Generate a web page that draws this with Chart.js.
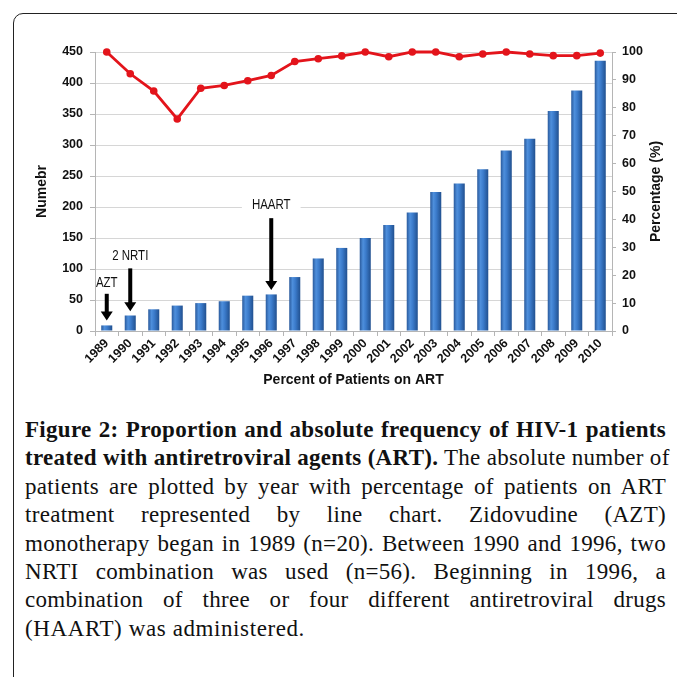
<!DOCTYPE html>
<html>
<head>
<meta charset="utf-8">
<script src="https://cdn.jsdelivr.net/npm/chart.js@4.4.1/dist/chart.umd.min.js"></script>
<style>
  html, body { margin: 0; padding: 0; background: #fff; }
  body { width: 677px; height: 677px; position: relative; overflow: hidden; }
  #frame {
    position: absolute; left: 13px; top: 13px; width: 720px; height: 720px;
    border: 1.5px solid #222; border-radius: 10px; box-sizing: border-box;
  }
  #chartBox { position: absolute; left: 0; top: 0; width: 677px; height: 400px; }
  #caption {
    position: absolute; left: 25px; top: 416px; width: 641px;
    font-family: "Liberation Serif", "Times New Roman", serif;
    font-size: 23px; line-height: 28.4px; color: #111; letter-spacing: 0.3px;
  }
  #caption div { white-space: nowrap; text-align: justify; text-align-last: justify; }
  #caption div.last { text-align: left; text-align-last: left; letter-spacing: 0.6px; }
</style>
</head>
<body>
<div id="frame"></div>
<div id="chartBox"><canvas id="artChart"></canvas></div>
<div id="caption">
  <div><b>Figure 2: Proportion and absolute frequency of HIV-1 patients</b></div>
  <div><b>treated with antiretroviral agents (ART).</b> The absolute number of</div>
  <div>patients are plotted by year with percentage of patients on ART</div>
  <div>treatment represented by line chart. Zidovudine (AZT)</div>
  <div>monotherapy began in 1989 (n=20). Between 1990 and 1996, two</div>
  <div>NRTI combination was used (n=56). Beginning in 1996, a</div>
  <div>combination of three or four different antiretroviral drugs</div>
  <div class="last">(HAART) was administered.</div>
</div>
<script>
const years = ['1989', '1990', '1991', '1992', '1993', '1994', '1995', '1996', '1997', '1998', '1999',
               '2000', '2001', '2002', '2003', '2004', '2005', '2006', '2007', '2008', '2009', '2010'];
// absolute number of patients (left axis)
const patients = [9, 25, 35, 41, 45, 48, 57, 59, 87, 117, 134,
                  150, 171, 191, 224, 238, 261, 291, 310, 355, 388, 436];
// percentage on ART (right axis)
const percentOnArt = [100, 92.2, 86, 76, 87, 88, 89.7, 91.6, 96.6, 97.6, 98.6,
                      100, 98.3, 100, 100, 98.3, 99.3, 100, 99.3, 98.7, 98.7, 99.6];

// arrow annotations: label, year, text level, arrow start, arrow tip (left axis units)
const noteLabels = ['AZT', '2 NRTI', 'HAART'];
const noteYears = ['1989', '1990', '1996'];
const noteTextAt = [77, 121, 203];
const noteFrom = [60, 101, 182];
const noteTo = [17, 32, 66];

const tickFont = { family: 'Liberation Sans, Arial, sans-serif', size: 12.5, weight: 'bold' };
const titleFont = { family: 'Liberation Sans, Arial, sans-serif', size: 14, weight: 'bold' };

function barGradient(context) {
  const chart = context.chart;
  const xs = chart.scales.x;
  if (!xs || context.dataIndex === undefined) return '#3a78c6';
  const c = xs.getPixelForValue(context.dataIndex);
  const w = xs.width / years.length * 0.47;
  if (!isFinite(c) || !isFinite(w) || w <= 0) return '#3a78c6';
  const g = chart.ctx.createLinearGradient(c - w / 2, 0, c + w / 2, 0);
  g.addColorStop(0, '#2a5a9c');
  g.addColorStop(0.3, '#4e8fdc');
  g.addColorStop(0.55, '#3b7bcb');
  g.addColorStop(1, '#21508f');
  return g;
}

// draws the arrows, their labels and the right-hand axis title
const notesPlugin = {
  id: 'notes',
  afterDatasetsDraw(chart) {
    const ctx = chart.ctx;
    const xs = chart.scales.x, ys = chart.scales.y;
    ctx.save();
    noteLabels.forEach((label, i) => {
      const x = xs.getPixelForValue(years.indexOf(noteYears[i]));
      const ty = ys.getPixelForValue(noteTextAt[i]);
      const y0 = ys.getPixelForValue(noteFrom[i]);
      const y1 = ys.getPixelForValue(noteTo[i]);
      ctx.font = '14px "Liberation Sans", Arial, sans-serif';
      const tw = ctx.measureText(label).width * 0.82;
      if (label === 'HAART') {
        ctx.fillStyle = '#fff';
        ctx.fillRect(x - tw / 2 - 10, ty - 8, tw + 20, 16);
      }
      ctx.save();
      ctx.translate(x, ty);
      ctx.scale(0.82, 1);
      ctx.fillStyle = '#111';
      ctx.textAlign = 'center';
      ctx.textBaseline = 'middle';
      ctx.fillText(label, 0, 0);
      ctx.restore();
      // arrow
      ctx.fillStyle = '#000';
      ctx.fillRect(x - 2, y0, 4, y1 - y0 - 8);
      ctx.beginPath();
      ctx.moveTo(x - 6, y1 - 9);
      ctx.lineTo(x + 6, y1 - 9);
      ctx.lineTo(x, y1);
      ctx.closePath();
      ctx.fill();
    });
    // right axis title, reading bottom to top
    const y2 = chart.scales.y2;
    ctx.translate(656, (y2.top + y2.bottom) / 2);
    ctx.rotate(-Math.PI / 2);
    ctx.font = 'bold 14px "Liberation Sans", Arial, sans-serif';
    ctx.fillStyle = '#111';
    ctx.textAlign = 'center';
    ctx.textBaseline = 'middle';
    ctx.fillText('Percentage (%)', 0, 0);
    ctx.restore();
  }
};

new Chart(document.getElementById('artChart'), {
  type: 'bar',
  data: {
    labels: years,
    datasets: [
      {
        type: 'line',
        label: 'Percentage',
        data: percentOnArt,
        yAxisID: 'y2',
        borderColor: '#e3141b',
        backgroundColor: '#e3141b',
        borderWidth: 2.8,
        pointRadius: 3.8,
        pointBackgroundColor: '#e3141b',
        pointBorderWidth: 0,
        tension: 0,
        clip: false,
        order: 0
      },
      {
        type: 'bar',
        label: 'Number',
        data: patients,
        yAxisID: 'y',
        backgroundColor: barGradient,
        borderWidth: 0,
        barPercentage: 0.47,
        categoryPercentage: 1,
        order: 1
      }
    ]
  },
  options: {
    responsive: true,
    maintainAspectRatio: false,
    animation: false,
    layout: { padding: { top: 52, left: 30, right: 0, bottom: 10 } },
    plugins: { legend: { display: false }, tooltip: { enabled: false } },
    scales: {
      x: {
        afterFit: s => { s.height = 59; },
        grid: { drawOnChartArea: false, drawTicks: true, tickLength: 5, color: '#b5b5b5', offset: true },
        border: { color: '#b5b5b5' },
        ticks: { font: { ...tickFont, size: 12.5 }, color: '#111', autoSkip: false, minRotation: 45, maxRotation: 45, padding: 0 },
        title: { display: true, text: 'Percent of Patients on ART', font: titleFont, color: '#111', padding: { top: 0, bottom: 1 } }
      },
      y: {
        position: 'left',
        min: 0, max: 450,
        afterFit: s => { s.width = 65; },
        grid: { color: '#d6d6d6', tickLength: 5, tickColor: '#b5b5b5' },
        border: { color: '#b5b5b5' },
        ticks: { stepSize: 50, font: tickFont, color: '#111', padding: 7 },
        title: { display: true, text: 'Numebr', font: titleFont, color: '#111', padding: { top: 4, bottom: 4 } }
      },
      y2: {
        position: 'right',
        min: 0, max: 100,
        afterFit: s => { s.width = 65; },
        grid: { drawOnChartArea: false, tickLength: 4, color: '#b5b5b5' },
        border: { color: '#b5b5b5' },
        ticks: { stepSize: 10, font: tickFont, color: '#111', padding: 6 }
      }
    }
  },
  plugins: [notesPlugin]
});
</script>
</body>
</html>
